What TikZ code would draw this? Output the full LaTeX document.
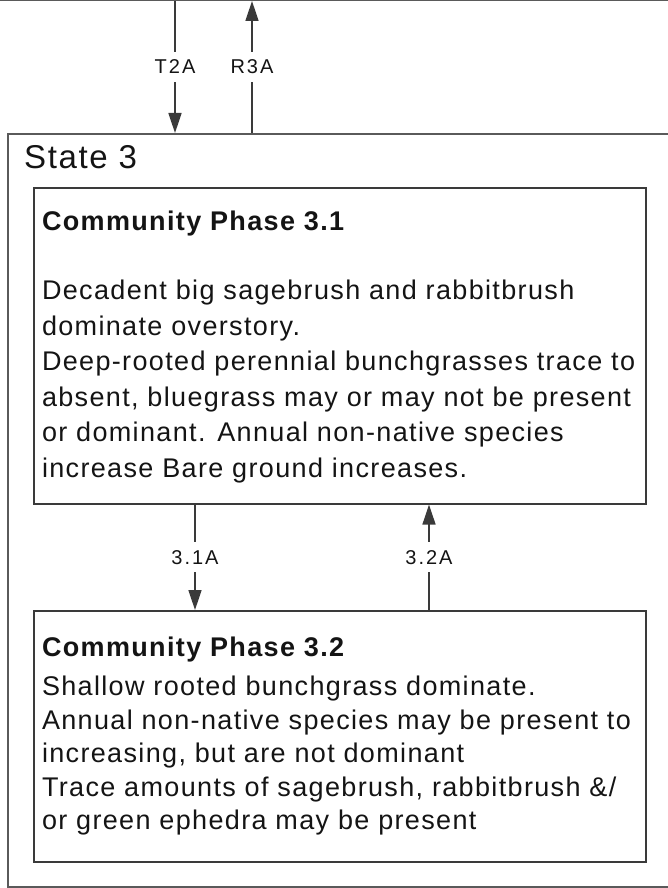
\documentclass[tikz,border=0pt]{standalone}
\usepackage{fontspec}
\setmainfont{Liberation Sans}[LetterSpace=5]
\usetikzlibrary{arrows.meta,positioning}
\definecolor{edgegray}{HTML}{3A3A3A}
\definecolor{stategray}{HTML}{5A5A5A}
\definecolor{inkgray}{HTML}{141414}

\begin{document}
\begin{tikzpicture}[x=1pt,y=-1pt,
        statebox/.style={draw=stategray, line width=2.4pt, inner sep=0pt},
        phasebox/.style={draw=edgegray, line width=1.6pt, anchor=north west, inner sep=0pt, minimum width=612pt},
        phasetext/.style={inner sep=0pt, align=left, text=inkgray, font=\fontsize{27}{33.5}\selectfont},
        trans/.style={draw=edgegray, line width=1.6pt, -{Triangle[length=20pt,width=13pt]}},
        translabel/.style={fill=white, inner xsep=2pt, inner ysep=8pt, text=inkgray,
            font=\fontsize{20}{24}\selectfont\addfontfeatures{LetterSpace=10}}]
    \useasboundingbox (0,0) rectangle (668,888);
    \clip (0,0) rectangle (668,888);

    \node[statebox, anchor=south west, minimum width=720pt, minimum height=300pt] (state2) at (-20,1) {};
    \node[statebox, anchor=north west, minimum width=720pt, minimum height=753pt] (state3) at (7,133) {};
    \node[inner sep=0pt, text=inkgray, font=\fontsize{33}{38}\selectfont,
        below right=12.2pt and 17pt of state3.north west] (s3title) {State 3};

    \node[phasebox, minimum height=316pt] (phase31) at (33,187) {};
    \node[phasetext, font=\fontsize{27}{35.5}\selectfont,
        below right=23.8pt and 8.8pt of phase31.north west] (p31text)
        {\textbf{Community Phase 3.1}\\[33.5pt]
         Decadent big sagebrush and rabbitbrush\\
         dominate overstory.\\
         Deep-rooted perennial bunchgrasses trace to\\
         absent, bluegrass may or may not be present\\
         or dominant. Annual non-native species\\
         increase Bare ground increases.};

    \node[phasebox, minimum height=251pt] (phase32) at (33,610) {};
    \node[phasetext, below right=26.8pt and 8.8pt of phase32.north west] (p32text)
        {\textbf{Community Phase 3.2}\\[5.5pt]
         Shallow rooted bunchgrass dominate.\\
         Annual non-native species may be present to\\
         increasing, but are not dominant\\
         Trace amounts of sagebrush, rabbitbrush \&/\\
         or green ephedra may be present};

    \draw[trans] (175,0 |- state2.south) -- node[translabel] (t2a) {T2A} (175,0 |- state3.north);
    \draw[trans] (252,0 |- state3.north) -- node[translabel] (r3a) {R3A} (252,0 |- state2.south);
    \draw[trans] (195,0 |- phase31.south) -- node[translabel] (a31) {3.1A} (195,0 |- phase32.north);
    \draw[trans] (429,0 |- phase32.north) -- node[translabel] (a32) {3.2A} (429,0 |- phase31.south);
\end{tikzpicture}
\end{document}
